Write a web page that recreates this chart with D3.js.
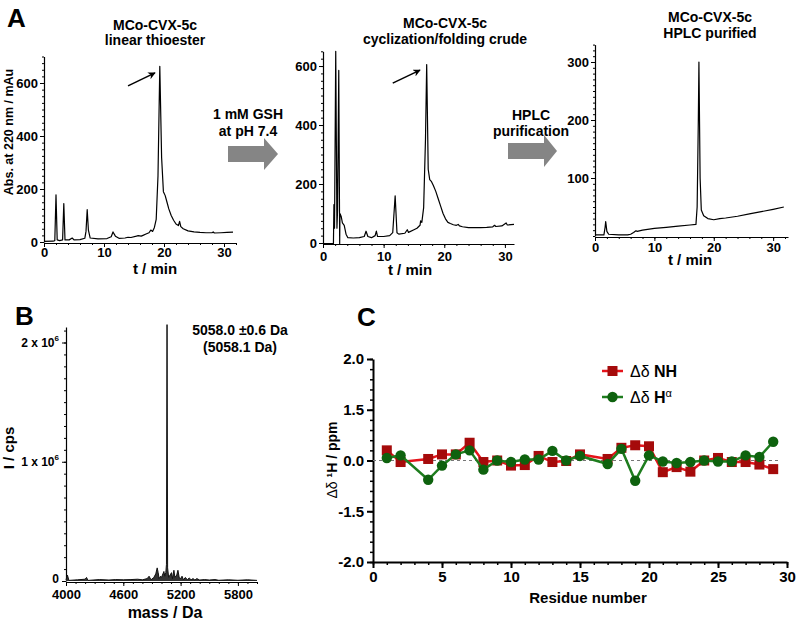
<!DOCTYPE html>
<html><head><meta charset="utf-8">
<script src="https://cdn.jsdelivr.net/npm/d3@7"></script>
<style>
body{margin:0;background:#fff}
svg{display:block}
</style></head><body>
<svg id="c" width="800" height="621"></svg>
<script>
// ---------- DATA ----------
// Panel A: chromatograms [t (min), Abs (mAu)]
const traceLinear = [[0,2],[1.5,3],[1.8,5],[2.0,178],[2.2,8],[2.6,5],[3.1,8],[3.3,145],[3.5,8],[4.2,8],[4.7,15],[5.0,8],[6.0,9],[6.8,14],[7.0,40],[7.2,122],[7.4,45],[7.7,15],[9,12],[10.5,13],[11.2,20],[11.5,38],[11.9,22],[12.5,14],[13.5,15],[14,18],[14.5,17],[15.4,22],[15.7,24],[16.2,22],[16.5,25],[17,30],[17.5,35],[17.8,45],[18.1,40],[18.4,55],[18.7,85],[19.0,250],[19.3,663],[19.6,320],[19.9,190],[20.2,175],[20.5,150],[20.8,125],[21.2,100],[21.6,82],[22.0,68],[22.4,62],[22.6,78],[22.8,58],[23.2,50],[24,42],[25,38],[26,36],[27,35],[28,35],[28.2,38],[28.4,34],[29.5,35],[30.5,36],[31.5,37]];
const traceCrude = [[0,-2],[1.72,-2],[1.8,130],[1.9,50],[2.1,650],[2.3,50],[2.4,110],[2.6,585],[2.75,-3],[2.8,100],[3.0,90],[3.2,68],[3.5,60],[3.8,30],[4.1,18],[5,17],[6,18],[6.8,22],[7.1,40],[7.4,22],[8,18],[8.6,25],[8.8,40],[9.0,22],[10,22],[11,25],[11.5,35],[11.9,160],[12.2,35],[12.5,30],[13.5,33],[13.9,45],[14.1,36],[15,45],[15.5,50],[16,60],[16.1,75],[16.3,70],[16.6,120],[16.9,350],[17.1,605],[17.35,250],[17.6,215],[17.9,208],[18.2,195],[18.6,175],[19,150],[19.4,125],[19.8,100],[20.2,82],[20.6,70],[21,66],[21.5,62],[22,60],[22.3,63],[22.5,58],[23,55],[24,52],[25,52],[26,52],[27,53],[28,55],[28.3,60],[28.5,56],[29.5,58],[30.2,68],[30.4,61],[31.5,63]];
const tracePure = [[0,2],[1.5,2],[1.7,15],[1.8,25],[2.0,8],[2.3,3],[4,2],[5.5,2],[6.0,3],[6.5,6],[6.9,9],[7.1,8],[8,10],[10,13],[12,15],[14,17],[16,19],[17,20],[17.2,50],[17.4,200],[17.5,300],[17.7,100],[17.9,45],[18.3,35],[19,30],[20,28],[21,30],[22,31],[24,34],[26,38],[28,42],[30,46],[31.8,50]];
const xTicksA = [0,10,20,30];
const yTicksA12 = [0,200,400,600];
const yTicksA3 = [100,200,300];

// Panel B: deconvoluted mass spectrum [mass (Da), intensity (x10^6 cps)]
const massSpec = [[4000,0.01],[4015,0.05],[4030,0.005],[4120,0.01],[4200,0.015],[4215,0.03],[4230,0.005],[4350,0.012],[4450,0.008],[4520,0.012],[4600,0.01],[4680,0.012],[4750,0.015],[4800,0.01],[4850,0.02],[4870,0.04],[4890,0.01],[4920,0.03],[4940,0.06],[4955,0.11],[4965,0.07],[4975,0.02],[4990,0.04],[5000,0.03],[5015,0.06],[5025,0.08],[5035,0.04],[5045,0.07],[5052,0.14],[5058,2.15],[5064,0.11],[5075,0.03],[5090,0.05],[5105,0.07],[5115,0.02],[5130,0.09],[5140,0.03],[5160,0.05],[5172,0.09],[5185,0.03],[5200,0.02],[5215,0.04],[5230,0.01],[5250,0.03],[5270,0.01],[5290,0.025],[5310,0.01],[5330,0.02],[5350,0.008],[5370,0.02],[5400,0.008],[5450,0.012],[5500,0.008],[5560,0.012],[5600,0.006],[5700,0.01],[5800,0.006],[5900,0.01],[6000,0.005]];
const xTicksB = [4000,4600,5200,5800];
const yTicksB = [0,1,2];
const yLabelsB = ["0","1 x 10","2 x 10"];

// Panel C: chemical shift differences
const residuesNH = [1,2,4,5,6,7,8,9,10,11,12,13,14,15,17,18,19,20,21,22,23,24,25,26,27,28,29];
const valuesNH   = [0.2,-0.03,0.03,0.12,0.12,0.35,-0.03,0,-0.1,-0.09,0.09,-0.03,-0.01,0.12,0.03,0.25,0.3,0.28,-0.23,-0.13,-0.22,0,0.05,-0.03,-0.03,-0.08,-0.17];
const residuesHa = [1,2,4,5,6,7,8,9,10,11,12,13,14,15,17,18,19,20,21,22,23,24,25,26,27,28,29];
const valuesHa   = [0.05,0.1,-0.38,-0.1,0.12,0.2,-0.18,0,-0.03,0.02,0.02,0.19,0,0.09,-0.07,0.23,-0.4,0.1,-0.02,-0.05,-0.03,0,-0.02,-0.02,0.1,0.07,0.37];
const xTicksC = [0,5,10,15,20,25,30];
const yTicksC = [-2,-1,0,1,2];
const yLabelsC = ["-2.0","-1.5","0.0","1.5","2.0"];

// ---------- DRAW ----------
const svg = d3.select("#c");
const REG = '"Liberation Sans",Arial,Helvetica,sans-serif';

function styleAxis(sel, size){
  sel.selectAll("text").style("font-family", REG).style("font-weight","bold").style("font-size", size+"px").attr("fill","#000");
  sel.selectAll("line").attr("stroke","#000");
  sel.select(".domain").attr("stroke","#000");
}
function txt(x,y,s,size,opt){
  opt = opt||{};
  const t = svg.append("text").attr("x",x).attr("y",y).text(s)
    .style("font-family", REG).style("font-weight", opt.w||"bold")
    .style("font-size", size+"px").attr("text-anchor", opt.anchor||"middle");
  if(opt.rot) t.attr("transform",`rotate(-90,${x},${y})`);
  return t;
}

function chrom(cfg){
  const x = d3.scaleLinear().domain(cfg.xd).range(cfg.xr);
  const y = d3.scaleLinear().domain(cfg.yd).range(cfg.yr);
  const g = svg.append("g");
  g.append("g").attr("transform",`translate(${cfg.xr[0]},0)`)
    .call(d3.axisLeft(y).tickValues(d3.range(0,cfg.yd[1]+1e-9,cfg.yMinor)).tickSize(2).tickFormat("").tickSizeOuter(0))
    .call(s=>{s.select(".domain").remove(); s.selectAll("line").attr("stroke","#000");});
  g.append("g").attr("transform",`translate(${cfg.xr[0]},0)`)
    .call(d3.axisLeft(y).tickValues(cfg.yTicks).tickSize(4).tickPadding(2).tickSizeOuter(0))
    .call(s=>styleAxis(s,13)).call(s=>s.select(".domain").attr("stroke-width",1.2));
  const ax0 = cfg.yr[0]+1;
  g.append("g").attr("transform",`translate(0,${ax0})`)
    .call(d3.axisBottom(x).tickValues(d3.range(0,cfg.xd[1]+1e-9,2)).tickSize(2).tickFormat("").tickSizeOuter(0))
    .call(s=>{s.select(".domain").remove(); s.selectAll("line").attr("stroke","#000");});
  g.append("g").attr("transform",`translate(0,${ax0})`)
    .call(d3.axisBottom(x).tickValues(xTicksA).tickSize(4).tickPadding(cfg.xPad).tickSizeOuter(0))
    .call(s=>styleAxis(s,13)).call(s=>s.select(".domain").attr("stroke-width",1.2));
  const line = d3.line().x(d=>x(d[0])).y(d=>y(d[1]));
  g.append("path").datum(cfg.data).attr("d",line).attr("fill","none").attr("stroke","#000").attr("stroke-width",1.2).attr("stroke-linejoin","round");
  if(cfg.arrow){
    const a = cfg.arrow;
    g.append("line").attr("x1",x(a[0][0])).attr("y1",y(a[0][1])).attr("x2",x(a[1][0])).attr("y2",y(a[1][1]))
      .attr("stroke","#000").attr("stroke-width",1.5).attr("marker-end","url(#ah)");
  }
}

svg.append("defs").append("marker").attr("id","ah").attr("viewBox","0 0 10 10").attr("refX",9).attr("refY",5)
  .attr("markerWidth",5).attr("markerHeight",5).attr("orient","auto")
  .append("path").attr("d","M0,0 L10,5 L0,10 L3,5 Z").attr("fill","#000");

chrom({data:traceLinear, xd:[0,32], xr:[44,236], yd:[0,700], yr:[242,56.5], yTicks:yTicksA12, yMinor:25, xPad:1,
  arrow:[[14,589],[18.5,638]]});
chrom({data:traceCrude, xd:[0,31.5], xr:[323,514], yd:[0,650], yr:[243,51.3], yTicks:yTicksA12, yMinor:25, xPad:4,
  arrow:[[11.5,542],[16,586]]});
chrom({data:tracePure, xd:[0,32.5], xr:[595,788], yd:[0,330], yr:[236,44.6], yTicks:yTicksA3, yMinor:10, xPad:2});

txt(7,27,"A",26,{anchor:"start"});
txt(155,30,"MCo-CVX-5c",14); txt(155,45,"linear thioester",14);
txt(445,28,"MCo-CVX-5c",14); txt(445,44,"cyclization/folding crude",14);
txt(710,22,"MCo-CVX-5c",14); txt(710,38,"HPLC purified",14);
txt(13,132,"Abs. at 220 nm / mAu",12.5,{rot:true});
txt(155,274,"t / min",15); txt(410,275,"t / min",15); txt(690,265,"t / min",15);
txt(248,119,"1 mM GSH",14); txt(248,136,"at pH 7.4",14);
txt(531,120,"HPLC",14); txt(531,136,"purification",14);
function blockArrow(x0,x1,x2,yc){
  svg.append("path").attr("d",`M${x0},${yc-8} L${x1},${yc-8} L${x1},${yc-16} L${x2},${yc} L${x1},${yc+16} L${x1},${yc+8} L${x0},${yc+8} Z`).attr("fill","#858585");
}
blockArrow(228,264,278,154);
blockArrow(508,544,557,151);

// Panel B
{
  const x = d3.scaleLinear().domain([4000,6000]).range([66,257]);
  const y = d3.scaleLinear().domain([0,2.13]).range([581,327]);
  const g = svg.append("g");
  g.append("g").attr("transform","translate(66,0)")
    .call(d3.axisLeft(y).tickValues(d3.range(0,2.1301,0.1)).tickSize(2).tickFormat("").tickSizeOuter(0))
    .call(s=>{s.select(".domain").remove(); s.selectAll("line").attr("stroke","#000");});
  const ya = g.append("g").attr("transform","translate(66,0)")
    .call(d3.axisLeft(y).tickValues(yTicksB).tickSize(4).tickPadding(3).tickSizeOuter(0))
    .call(s=>styleAxis(s,12)).call(s=>s.select(".domain").attr("stroke-width",1.2));
  ya.selectAll(".tick text").each(function(d,i){
    const t = d3.select(this); t.text(null);
    t.append("tspan").text(yLabelsB[i]);
    if(d!==0) t.append("tspan").text("6").attr("dy",-6).style("font-size","8px");
  });
  ya.selectAll(".tick").filter(d=>d===0).select("text").attr("dy","0.1em");
  g.append("g").attr("transform","translate(0,582)")
    .call(d3.axisBottom(x).tickValues(d3.range(4000,6001,100)).tickSize(2).tickFormat("").tickSizeOuter(0))
    .call(s=>{s.select(".domain").remove(); s.selectAll("line").attr("stroke","#000");});
  g.append("g").attr("transform","translate(0,582)")
    .call(d3.axisBottom(x).tickValues(xTicksB).tickFormat(d3.format("d")).tickSize(4).tickPadding(4).tickSizeOuter(0))
    .call(s=>styleAxis(s,13)).call(s=>s.select(".domain").attr("stroke-width",1.2));
  const area = d3.area().x(d=>x(d[0])).y0(y(0)).y1(d=>y(d[1]));
  g.append("path").datum(massSpec).attr("d",area).attr("fill","#333");
  const line = d3.line().x(d=>x(d[0])).y(d=>y(d[1]));
  g.append("path").datum(massSpec).attr("d",line).attr("fill","none").attr("stroke","#111").attr("stroke-width",1);
  txt(15,325,"B",26,{anchor:"start"});
  txt(240,335,"5058.0 \u00b10.6 Da",14);
  txt(240,352,"(5058.1 Da)",14);
  txt(14,448,"I / cps",15,{rot:true});
  txt(165,618,"mass / Da",16);
}

// Panel C
{
  const x = d3.scaleLinear().domain([0,30]).range([373,787]);
  const y = d3.scaleLinear().domain([-2,2]).range([562,359]);
  const g = svg.append("g");
  g.append("g").attr("transform","translate(373,0)")
    .call(d3.axisLeft(y).tickValues(d3.range(-2,2.0001,0.2)).tickSize(3).tickFormat("").tickSizeOuter(0))
    .call(s=>{s.select(".domain").remove(); s.selectAll("line").attr("stroke","#000").attr("stroke-width",1.5);});
  g.append("g").attr("transform","translate(373,0)")
    .call(d3.axisLeft(y).tickValues(yTicksC).tickSize(6).tickPadding(3).tickSizeOuter(0).tickFormat((d,i)=>yLabelsC[i]))
    .call(s=>styleAxis(s,15)).call(s=>{s.select(".domain").attr("stroke-width",2); s.selectAll("line").attr("stroke-width",2);});
  g.append("g").attr("transform","translate(0,562)")
    .call(d3.axisBottom(x).tickValues(d3.range(0,31,1)).tickSize(3).tickFormat("").tickSizeOuter(0))
    .call(s=>{s.select(".domain").remove(); s.selectAll("line").attr("stroke","#000").attr("stroke-width",1.5);});
  g.append("g").attr("transform","translate(0,562)")
    .call(d3.axisBottom(x).tickValues(xTicksC).tickSize(6).tickPadding(3).tickSizeOuter(0))
    .call(s=>styleAxis(s,15)).call(s=>{s.select(".domain").attr("stroke-width",2); s.selectAll("line").attr("stroke-width",2);});
  g.append("line").attr("x1",x(0)).attr("x2",x(29.5)).attr("y1",y(0)).attr("y2",y(0))
    .attr("stroke","#777").attr("stroke-width",1).attr("stroke-dasharray","3,3");
  const nh = residuesNH.map((r,i)=>[r,valuesNH[i]]);
  const ha = residuesHa.map((r,i)=>[r,valuesHa[i]]);
  const line = d3.line().x(d=>x(d[0])).y(d=>y(d[1]));
  g.append("path").datum(nh).attr("d",line).attr("fill","none").attr("stroke","#e5141b").attr("stroke-width",2.5);
  g.selectAll(".sq").data(nh).join("rect").attr("x",d=>x(d[0])-5).attr("y",d=>y(d[1])-5).attr("width",10).attr("height",10).attr("fill","#a50b0b");
  g.append("path").datum(ha).attr("d",line).attr("fill","none").attr("stroke","#1e7d1e").attr("stroke-width",2.5);
  g.selectAll(".ci").data(ha).join("circle").attr("cx",d=>x(d[0])).attr("cy",d=>y(d[1])).attr("r",5.2).attr("fill","#0e620e");
  g.append("line").attr("x1",602).attr("x2",623).attr("y1",371).attr("y2",371).attr("stroke","#e5141b").attr("stroke-width",2.5);
  g.append("rect").attr("x",607.5).attr("y",366).attr("width",10).attr("height",10).attr("fill","#a50b0b");
  g.append("line").attr("x1",602).attr("x2",623).attr("y1",397).attr("y2",397).attr("stroke","#1e7d1e").attr("stroke-width",2.5);
  g.append("circle").attr("cx",612.5).attr("cy",397).attr("r",5.2).attr("fill","#0e620e");
  const l1 = txt(630,377,"",16,{anchor:"start"});
  l1.append("tspan").text("\u0394\u03b4 ").style("font-weight","normal");
  l1.append("tspan").text("NH");
  const l2 = txt(630,403,"",16,{anchor:"start"});
  l2.append("tspan").text("\u0394\u03b4 ").style("font-weight","normal");
  l2.append("tspan").text("H");
  l2.append("tspan").text("\u03b1").attr("dy",-6).style("font-size","11px").style("font-weight","normal");
  txt(357,326,"C",26,{anchor:"start"});
  const yl = txt(337,460,"",14,{rot:true});
  yl.append("tspan").text("\u0394\u03b4 ").style("font-weight","normal");
  yl.append("tspan").text("\u00b9H / ppm");
  txt(588,603,"Residue number",15);
}
</script>
</body></html>
